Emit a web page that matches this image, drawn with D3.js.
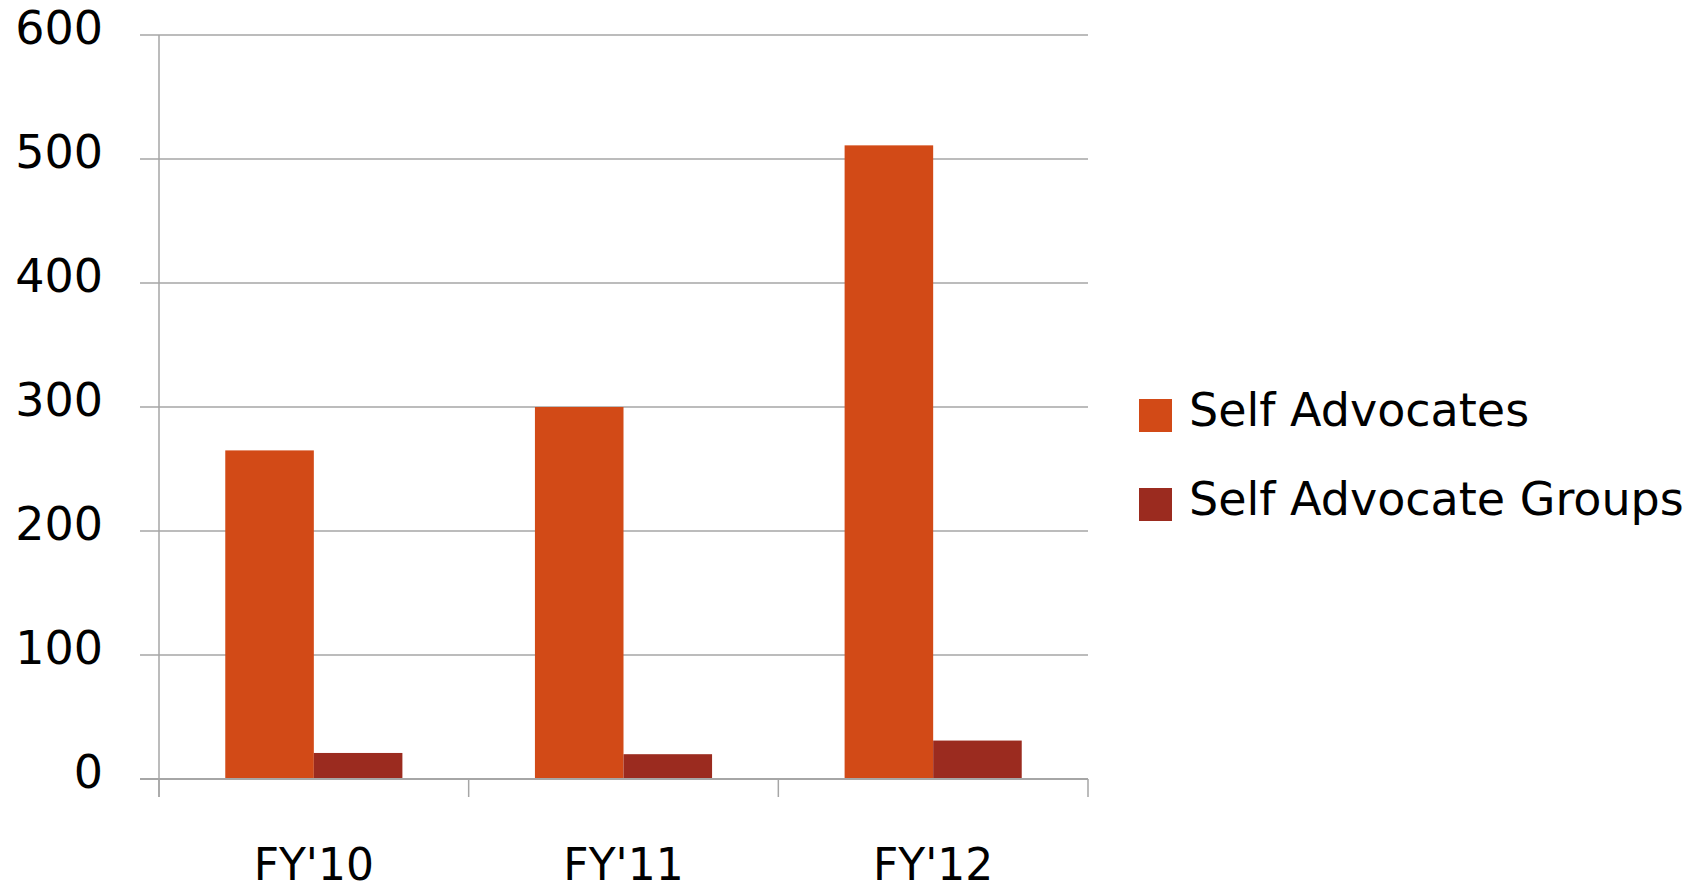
<!DOCTYPE html>
<html>
<head>
<meta charset="utf-8">
<script src="https://cdn.jsdelivr.net/npm/d3@7"></script>
<style>
  body { margin: 0; background: #fff; }
  text { font-family: "DejaVu Sans", sans-serif; fill: #000; }
</style>
</head>
<body>
<svg id="chart" width="1700" height="891"></svg>
<script>
// data
var categories = ["FY'10", "FY'11", "FY'12"];
var seriesNames = ["Self Advocates", "Self Advocate Groups"];
var selfAdvocates = [265, 300, 511];
var selfAdvocateGroups = [21, 20, 31];
var yTicks = [0, 100, 200, 300, 400, 500, 600];

var colors = ["#d24a17", "#9b2b1f"];
var gridColor = "#a6a6a6";

var margin = {left: 159, top: 35, right: 612, bottom: 112};
var width = 1700 - margin.left - margin.right,
    height = 891 - margin.top - margin.bottom;

var svg = d3.select("#chart");
var g = svg.append("g")
    .attr("transform", "translate(" + margin.left + "," + margin.top + ")");

var x0 = d3.scaleBand().domain(categories).range([0, width]);
var bw = x0.bandwidth();
var x1 = d3.scaleBand().domain(seriesNames).range([bw * 0.214, bw * 0.786]);
var y = d3.scaleLinear().domain([0, 600]).range([height, 0]);

// horizontal gridlines, starting left of the axis like tick marks
g.selectAll(".grid").data(yTicks).enter().append("line")
    .attr("class", "grid")
    .attr("x1", -19).attr("x2", width)
    .attr("y1", function(d) { return y(d); })
    .attr("y2", function(d) { return y(d); })
    .attr("stroke", gridColor).attr("stroke-width", 1.5);

// y tick labels
g.selectAll(".ylab").data(yTicks).enter().append("text")
    .attr("class", "ylab")
    .attr("x", -56)
    .attr("y", function(d) { return y(d) - 8; })
    .attr("dy", "0.36em")
    .attr("text-anchor", "end")
    .style("font-size", "46px")
    .text(function(d) { return d; });

// bars
var table = categories.map(function(c, i) {
  return {key: c, pr: [
    {key: seriesNames[0], value: selfAdvocates[i]},
    {key: seriesNames[1], value: selfAdvocateGroups[i]}
  ]};
});

var period = g.selectAll(".period").data(table).enter().append("g")
    .attr("class", "period")
    .attr("transform", function(d) { return "translate(" + x0(d.key) + ",0)"; });

period.selectAll("rect").data(function(d) { return d.pr; }).enter().append("rect")
    .attr("x", function(d) { return x1(d.key); })
    .attr("y", function(d) { return y(d.value); })
    .attr("width", x1.bandwidth())
    .attr("height", function(d) { return height - y(d.value); })
    .style("fill", function(d, i) { return colors[i]; });

// y axis line
g.append("line")
    .attr("x1", 0).attr("x2", 0)
    .attr("y1", 0).attr("y2", height + 18)
    .attr("stroke", gridColor).attr("stroke-width", 1.5);

// x axis baseline and category separators
g.append("line")
    .attr("x1", -19).attr("x2", width)
    .attr("y1", height).attr("y2", height)
    .attr("stroke", gridColor).attr("stroke-width", 2);

var seps = categories.map(function(c) { return x0(c); }).concat([width]);
g.selectAll(".sep").data(seps).enter().append("line")
    .attr("class", "sep")
    .attr("x1", function(d) { return d; }).attr("x2", function(d) { return d; })
    .attr("y1", height).attr("y2", height + 18)
    .attr("stroke", gridColor).attr("stroke-width", 1.5);

g.selectAll(".xlab").data(categories).enter().append("text")
    .attr("class", "xlab")
    .attr("x", function(d) { return x0(d) + bw / 2; })
    .attr("y", height + 101)
    .attr("text-anchor", "middle")
    .style("font-size", "44px")
    .text(function(d) { return d; });

// legend
var legend = svg.selectAll(".legend").data(seriesNames).enter().append("g")
    .attr("class", "legend")
    .attr("transform", function(d, i) { return "translate(1139," + (399 + i * 89) + ")"; });

legend.append("rect")
    .attr("width", 33).attr("height", 33)
    .style("fill", function(d, i) { return colors[i]; });

legend.append("text")
    .attr("x", 50).attr("y", 27)
    .style("font-size", "46px")
    .text(function(d) { return d; });
</script>
</body>
</html>
